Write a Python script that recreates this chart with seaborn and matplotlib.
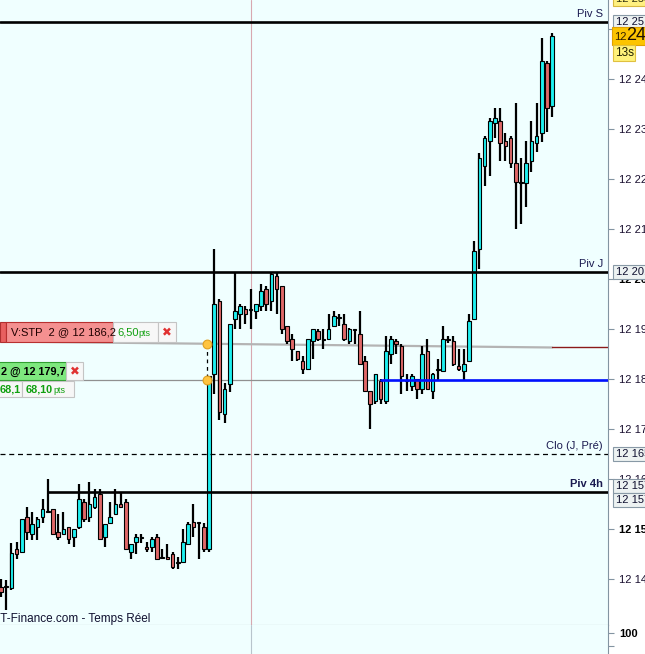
import matplotlib
matplotlib.use("Agg")
import matplotlib.pyplot as plt
from matplotlib.patches import Rectangle
import seaborn as sns

# ---- candle data (index 0..106), prices ----
opens = [12138.4, 12138.4, 12138.2, 12146.0, 12145.4, 12152.4, 12149.0, 12150.4, 12152.4, 12153.4,
         12154.0, 12149.4, 12149.0, 12150.4, 12148.4, 12150.4, 12155.4, 12152.4, 12154.4, 12157.0,
         12148.4, 12151.2, 12153.0, 12155.0, 12155.4, 12145.4, 12147.4, 12148.2, 12146.4, 12146.4,
         12148.4, 12144.2, 12144.4, 12145.0, 12143.2, 12143.4, 12147.0, 12151.4, 12151.2, 12150.4,
         12146.0, 12181.0, 12195.6, 12173.0, 12179.0, 12192.0, 12193.0, 12194.0, 12193.8, 12193.6,
         12194.6, 12198.0, 12195.6, 12200.6, 12198.6, 12190.6, 12188.0, 12185.6, 12183.6, 12182.0,
         12187.6, 12189.6, 12187.8, 12188.0, 12190.6, 12192.2, 12191.0, 12187.6, 12189.8, 12189.0,
         12183.6, 12177.6, 12175.6, 12179.6, 12175.6, 12185.0, 12187.6, 12186.6, 12179.6, 12178.6,
         12180.0, 12178.0, 12185.6, 12177.6, 12181.8, 12181.6, 12187.8, 12187.6, 12182.6, 12181.6,
         12183.6, 12192.0, 12206.0, 12222.6, 12227.6, 12231.2, 12231.6, 12227.6, 12228.2, 12223.2,
         12219.2, 12219.2, 12223.6, 12227.2, 12229.2, 12243.2, 12234.6]
closes = [12137.4, 12138.4, 12145.2, 12145.0, 12152.0, 12149.4, 12151.0, 12152.0, 12154.0, 12153.4,
          12149.0, 12148.4, 12150.0, 12148.0, 12150.0, 12156.0, 12152.0, 12155.0, 12156.4, 12148.0,
          12151.0, 12152.4, 12155.0, 12154.4, 12146.0, 12147.0, 12148.4, 12148.2, 12146.0, 12148.0,
          12144.0, 12144.2, 12144.0, 12142.4, 12143.2, 12147.4, 12151.0, 12150.4, 12151.2, 12146.0,
          12180.6, 12195.0, 12173.4, 12178.0, 12191.0, 12193.6, 12194.6, 12193.0, 12193.8, 12195.0,
          12197.6, 12195.0, 12201.0, 12198.0, 12190.0, 12187.6, 12186.0, 12184.0, 12182.0, 12188.0,
          12190.0, 12188.0, 12187.8, 12190.0, 12192.6, 12192.2, 12188.0, 12190.0, 12189.8, 12183.0,
          12177.6, 12175.0, 12181.0, 12176.0, 12185.6, 12188.0, 12187.0, 12180.6, 12179.6, 12180.6,
          12178.0, 12185.0, 12178.0, 12181.0, 12181.8, 12188.0, 12187.8, 12183.0, 12182.0, 12183.0,
          12191.6, 12205.6, 12224.2, 12228.2, 12231.6, 12232.2, 12227.2, 12226.6, 12223.2, 12219.4,
          12219.4, 12223.2, 12227.6, 12228.6, 12243.6, 12234.2, 12248.6]
highs = [12140.0, 12139.8, 12147.2, 12147.4, 12152.0, 12154.4, 12153.4, 12152.4, 12156.0, 12160.0,
         12154.0, 12153.0, 12153.4, 12150.4, 12150.0, 12159.0, 12156.0, 12159.4, 12158.0, 12158.0,
         12151.0, 12155.4, 12158.0, 12157.4, 12156.0, 12147.0, 12149.0, 12149.0, 12147.4, 12148.4,
         12149.0, 12146.0, 12147.0, 12145.4, 12144.4, 12150.0, 12151.4, 12155.0, 12151.4, 12151.2,
         12180.6, 12206.0, 12196.0, 12179.2, 12191.0, 12201.2, 12195.0, 12194.6, 12198.0, 12195.0,
         12199.0, 12198.6, 12201.2, 12201.2, 12198.6, 12190.6, 12189.0, 12185.6, 12184.6, 12188.0,
         12190.0, 12190.0, 12190.0, 12193.0, 12193.6, 12193.0, 12193.0, 12190.2, 12190.0, 12193.6,
         12184.6, 12177.6, 12181.0, 12180.0, 12188.6, 12188.6, 12188.0, 12187.0, 12181.0, 12181.0,
         12180.0, 12186.6, 12188.0, 12181.2, 12184.0, 12190.6, 12188.6, 12188.6, 12186.0, 12186.0,
         12193.0, 12207.6, 12225.2, 12228.6, 12232.2, 12234.2, 12234.2, 12229.2, 12228.6, 12235.2,
         12224.2, 12227.6, 12231.6, 12235.2, 12248.2, 12243.6, 12249.2]
lows = [12136.4, 12133.8, 12137.8, 12144.0, 12145.4, 12147.8, 12147.8, 12147.8, 12151.2, 12153.2,
        12149.0, 12147.8, 12149.0, 12147.0, 12146.4, 12150.0, 12151.4, 12151.4, 12154.0, 12148.0,
        12146.4, 12151.0, 12153.0, 12154.4, 12146.0, 12144.0, 12145.0, 12147.2, 12145.4, 12145.4,
        12144.0, 12144.0, 12144.0, 12142.0, 12142.0, 12143.4, 12147.0, 12148.4, 12144.0, 12145.4,
        12145.4, 12177.0, 12171.8, 12171.2, 12177.4, 12190.0, 12190.0, 12191.0, 12190.0, 12192.0,
        12193.6, 12193.6, 12193.6, 12193.0, 12189.0, 12187.0, 12183.6, 12183.6, 12181.0, 12182.0,
        12184.0, 12187.6, 12186.0, 12188.0, 12190.6, 12190.6, 12187.6, 12187.0, 12187.0, 12183.0,
        12177.6, 12170.0, 12175.0, 12175.0, 12175.0, 12183.0, 12185.0, 12177.0, 12177.6, 12177.6,
        12176.0, 12177.0, 12178.0, 12176.0, 12179.6, 12181.6, 12187.2, 12182.6, 12181.6, 12179.8,
        12183.6, 12192.0, 12202.0, 12218.6, 12220.6, 12228.2, 12223.6, 12223.6, 12222.2, 12210.0,
        12211.0, 12214.4, 12221.4, 12225.4, 12227.4, 12229.4, 12232.4]

# ---- levels ----
piv_names = ["Piv S", "Piv J", "Piv 4h"]
piv_prices = [12251.4, 12201.4, 12157.4]
piv_start = [-0.2, -0.2, 9.0]
clo_price = 12165.0
entry_price = 12179.7
stop_price = 12186.3
stop_start = 12187.5
entry_index = 39.6
cursor_index = 48.1
tick_prices = [12140, 12150, 12160, 12170, 12180, 12190, 12200, 12210, 12220, 12230, 12240, 12250]
box_prices = [12251.4, 12201.4, 12165.0, 12157.4]
last_price = closes[-1]

W, H = 645, 654
Y_TOP, Y_BOT = 12255.8, 12130.8
PX_PER_PT = 625 / (Y_TOP - Y_BOT)


def py(p):
    return (Y_TOP - p) * PX_PER_PT


sns.set_style("white")
plt.rcParams['font.family'] = ['Liberation Sans', 'DejaVu Sans']

fig = plt.figure(figsize=(W / 100, H / 100), dpi=100, facecolor='white')
ax = fig.add_axes([0, 29 / H, 608 / W, 625 / H])
sub = fig.add_axes([0, 0, 608 / W, 29 / H])

bg = '#f0ffff'
axis_col = '#8394a2'
for a in (ax, sub):
    a.set_facecolor(bg)
    for s in ('left', 'top', 'bottom', 'right'):
        a.spines[s].set_visible(False)
    a.spines['right'].set_visible(True)
    a.spines['right'].set_color(axis_col)
ax.spines['bottom'].set_visible(True)
ax.spines['bottom'].set_color(axis_col)

xs = list(range(len(opens)))
ax.set_xlim(-1 / 5.2, 607 / 5.2)
ax.set_ylim(Y_BOT, Y_TOP)
sub.set_xlim(ax.get_xlim())
sub.set_ylim(0, 138)

# grey helper lines (under candles)
ax.axvline(cursor_index, color='#d8a8b0', lw=0.8, zorder=1)
sub.axvline(cursor_index, color='#b8c4cc', lw=0.8, zorder=1)
ax.plot([-0.2, 106], [stop_start, stop_price], color='#b4b4b4', lw=1.6, zorder=1)
ax.plot([106, 117], [stop_price, stop_price], color='#8b1a1a', lw=1.0, zorder=1)
ax.axhline(entry_price, color='#909090', lw=0.9, zorder=1)

# candles
up = [c >= o for o, c in zip(opens, closes)]
colors = ['#1ef0f0' if u else '#e06868' for u in up]
bottoms = [min(o, c) for o, c in zip(opens, closes)]
heights = [max(abs(c - o), 0.15) for o, c in zip(opens, closes)]
ax.vlines(xs, lows, highs, color='black', lw=1.6, zorder=2)
ax.bar(xs, heights, bottom=bottoms, width=0.72, color=colors, edgecolor='black',
       linewidth=0.8, zorder=3)

# pivot lines
for name, p, x0 in zip(piv_names, piv_prices, piv_start):
    ax.plot([x0, 117], [p, p], color='black', lw=1.9, zorder=4)
    fig.text(603 / W, 1 - (py(p) - 8) / H, name, ha='right', va='center', fontsize=8,
             color='#1a1a50', fontweight='bold' if name == 'Piv 4h' else 'normal')
ax.axhline(clo_price, color='black', lw=0.9, ls=(0, (4, 3)), zorder=4)
fig.text(603 / W, 1 - (py(clo_price) - 8) / H, "Clo (J, Pré)", ha='right', va='center',
         fontsize=8, color='#1a1a50')
ax.plot([73.0, 117], [entry_price, entry_price], color='#0010ff', lw=1.9, zorder=4)

# order markers
stop_at_entry = stop_start + (stop_price - stop_start) * (entry_index + 0.2) / 106.2
ax.plot([entry_index, entry_index], [stop_at_entry, entry_price], color='black', lw=0.9,
        ls=(0, (3, 3)), zorder=5)
sns.scatterplot(x=[entry_index, entry_index], y=[stop_at_entry, entry_price], ax=ax, s=40,
                color='#ffc440', edgecolor='#e0a020', linewidth=0.8, zorder=6, legend=False)

# right axis ticks
ax.yaxis.tick_right()
ax.set_yticks(tick_prices)
ax.set_yticklabels([f"12 {p - 12000:03d}" for p in tick_prices], fontsize=8, color='#1a1030')
for lab, p in zip(ax.get_yticklabels(), tick_prices):
    if p % 50 == 0:
        lab.set_fontweight('bold')
        lab.set_color('black')
ax.tick_params(axis='y', length=4, color=axis_col, pad=4, right=True, left=False)
ax.set_xticks([])
sub.yaxis.tick_right()
sub.set_yticks([38, 100])
sub.set_yticklabels(['', '100'], fontsize=8, fontweight='bold', color='black')
sub.tick_params(axis='y', length=4, color=axis_col, pad=4)
sub.set_xticks([])


def box(x0, y0, x1, y1, fc, ec, lw=0.8):
    fig.patches.append(Rectangle((x0 / W, 1 - y1 / H), (x1 - x0) / W, (y1 - y0) / H,
                                 transform=fig.transFigure, facecolor=fc, edgecolor=ec,
                                 linewidth=lw, zorder=10))


def label(x, y, s, **kw):
    kw.setdefault('fontsize', 8)
    kw.setdefault('va', 'center')
    fig.text(x / W, 1 - y / H, s, zorder=11, **kw)


# price boxes on the right axis
box(613, -8, 650, 6, '#fff080', '#d8b840')
label(616, -1, "12 253", color='#303010')
offsets = [0, 0, 0, -6]
for p, off in zip(box_prices, offsets):
    yc = py(p) + off
    box(613, yc - 7, 650, yc + 7, '#edf2f2', '#8899a6')
    label(616, yc, f"12 {int(p) - 12000:03d}", color='#101030')
yc = py(box_prices[-1]) + 8
box(613, yc - 7, 650, yc + 7, '#edf2f2', '#8899a6')
label(616, yc, "12 157", color='#101030')
yc = py(last_price)
box(612, yc - 9, 650, yc + 9, '#fcc400', '#e0a000')
label(614, yc + 1, "12", fontsize=8, color='#302000')
label(626, yc, "24", fontsize=13, color='#201000')
box(613, yc + 9, 635, yc + 25, '#fff27a', '#e0c040')
label(615, yc + 17, "13s", fontsize=8.5, color='#202000')

# order tags
ys = py(stop_price) - 15
box(0, ys - 10, 6, ys + 10, '#e86060', '#b03030')
box(6, ys - 10, 113, ys + 10, '#f49090', '#b83030')
label(11, ys, "V:STP  2 @ 12 186,2", fontsize=8, color='#200000')
box(113, ys - 10, 158, ys + 10, '#f7f7f7', '#c4c4c4')
label(117, ys, "6,50", fontsize=8, color='#10a010')
label(138, ys + 1, "pts", fontsize=6.5, color='#10a010')
box(158, ys - 10, 176, ys + 10, '#f7f7f7', '#c4c4c4')
label(167, ys, "\u2716", fontsize=8.5, color='#e03030', ha='center',
      family=['DejaVu Sans'])

ye = py(entry_price) - 9
box(-2, ye - 9, 66, ye + 9, '#7ee87e', '#30a030')
label(1, ye, "2 @ 12 179,7", fontsize=7.8, fontweight='bold', color='black')
box(66, ye - 9, 83, ye + 9, '#f7f7f7', '#c4c4c4')
label(74.5, ye, "\u2716", fontsize=8.5, color='#e03030', ha='center',
      family=['DejaVu Sans'])
yp = py(entry_price) + 9
box(-2, yp - 8, 22, yp + 8, '#f7f7f7', '#c4c4c4')
label(0, yp, "68,1", fontsize=7.8, fontweight='bold', color='#10a010')
box(22, yp - 8, 74, yp + 8, '#f7f7f7', '#c4c4c4')
label(26, yp, "68,10", fontsize=7.8, fontweight='bold', color='#10a010')
label(53, yp + 1, "pts", fontsize=6.5, color='#10a010')

label(-3, 619, "IT-Finance.com - Temps Réel", fontsize=8.5, color='#101030')

fig.savefig("out.png", dpi=100, facecolor='white')
